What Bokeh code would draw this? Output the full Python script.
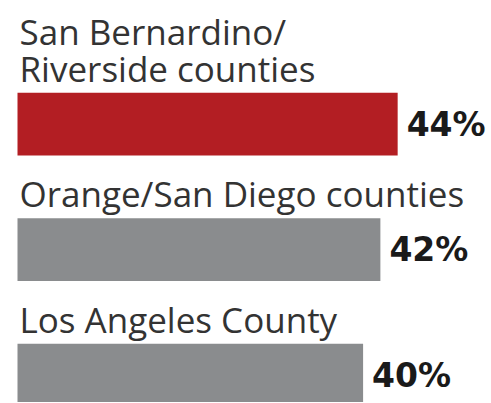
from bokeh.plotting import figure
from bokeh.models import ColumnDataSource, Range1d
from bokeh.core.properties import value
from bokeh.embed import file_html
from bokeh.resources import INLINE

# Data
regions = ["San Bernardino/\nRiverside counties", "Orange/San Diego counties", "Los Angeles County"]
shares = [44, 42, 40]
share_labels = ["44%", "42%", "40%"]
bar_colors = ["#b31e23", "#8a8c8e", "#8a8c8e"]

W, H = 490, 402
XS = 8.64    # px per percentage point
YS = 125.5   # px per row
LINE_GAP = 37 / YS  # label line spacing in row units

rows = list(range(len(regions)))
bars = ColumnDataSource(dict(row=rows, share=shares, label=share_labels, color=bar_colors))

lab_text, lab_y = [], []
for i, name in enumerate(regions):
    parts = name.split("\n")
    for k, part in enumerate(reversed(parts)):
        lab_text.append(part)
        lab_y.append(i - 0.25 - k * LINE_GAP)
labels = ColumnDataSource(dict(text=lab_text, y=lab_y))

p = figure(width=W, height=H, output_backend="svg", toolbar_location=None,
           x_range=Range1d(-17 / XS, (W - 17) / XS),
           y_range=Range1d(-123.5 / YS + H / YS, -123.5 / YS),
           min_border=0)
p.axis.visible = False
p.grid.visible = False
p.outline_line_color = None
p.background_fill_color = None
p.border_fill_color = None

p.hbar(y="row", left=0, right="share", height=0.5, fill_color="color",
       line_color=None, source=bars)

p.text(x=0, y="y", text="text", source=labels,
       text_font=value("Open Sans"), text_font_size="35px", text_color="#333333",
       text_baseline="bottom", text_align="left", x_offset=2, y_offset=-1)

p.text(x="share", y="row", text="label", source=bars,
       text_font=value("DejaVu Sans"), text_font_size="33px", text_font_style="bold",
       text_color="#1a1a1a", text_baseline="alphabetic", text_align="left",
       x_offset=9, y_offset=0)

open("out.html", "w").write(file_html(p, INLINE))
